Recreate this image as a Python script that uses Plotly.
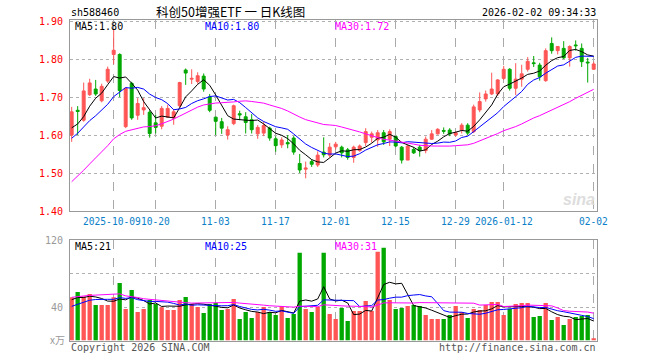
import plotly.graph_objects as go
import pandas as pd

# ---------------- data ----------------
dates = [
    "2025-09-22", "2025-09-23", "2025-09-24", "2025-09-25", "2025-09-26", "2025-09-29", "2025-09-30",
    "2025-10-09", "2025-10-10", "2025-10-13", "2025-10-14", "2025-10-15", "2025-10-16", "2025-10-17",
    "2025-10-20", "2025-10-21", "2025-10-22", "2025-10-23", "2025-10-24", "2025-10-27", "2025-10-28",
    "2025-10-29", "2025-10-30", "2025-10-31",
    "2025-11-03", "2025-11-04", "2025-11-05", "2025-11-06", "2025-11-07", "2025-11-10", "2025-11-11",
    "2025-11-12", "2025-11-13", "2025-11-14", "2025-11-17", "2025-11-18", "2025-11-19", "2025-11-20",
    "2025-11-21", "2025-11-24", "2025-11-25", "2025-11-26", "2025-11-27", "2025-11-28",
    "2025-12-01", "2025-12-02", "2025-12-03", "2025-12-04", "2025-12-05", "2025-12-08", "2025-12-09",
    "2025-12-10", "2025-12-11", "2025-12-12", "2025-12-15", "2025-12-16", "2025-12-17", "2025-12-18",
    "2025-12-19", "2025-12-22", "2025-12-23", "2025-12-24", "2025-12-25", "2025-12-26", "2025-12-29",
    "2025-12-30", "2025-12-31",
    "2026-01-05", "2026-01-06", "2026-01-07", "2026-01-08", "2026-01-09", "2026-01-12", "2026-01-13",
    "2026-01-14", "2026-01-15", "2026-01-16", "2026-01-19", "2026-01-20", "2026-01-21", "2026-01-22",
    "2026-01-23", "2026-01-26", "2026-01-27", "2026-01-28", "2026-01-29", "2026-01-30",
    "2026-02-02",
]

open_ = [1.600, 1.665, 1.639, 1.706, 1.721, 1.690, 1.742, 1.812, 1.812, 1.622,
         1.736, 1.652, 1.666, 1.660, 1.632, 1.623, 1.647, 1.645, 1.677, 1.771,
         1.747, 1.741, 1.755, 1.700, 1.647, 1.635, 1.600, 1.630, 1.656, 1.648,
         1.640, 1.603, 1.605, 1.618, 1.590, 1.574, 1.580, 1.592, 1.525, 1.510,
         1.530, 1.521, 1.555, 1.547, 1.569, 1.568, 1.561, 1.541, 1.559, 1.580,
         1.594, 1.587, 1.606, 1.589, 1.596, 1.568, 1.534, 1.562, 1.568, 1.559,
         1.589, 1.603, 1.612, 1.613, 1.600, 1.613, 1.626, 1.609, 1.666, 1.695,
         1.708, 1.708, 1.749, 1.773, 1.723, 1.747, 1.773, 1.790, 1.784, 1.743,
         1.841, 1.822, 1.828, 1.803, 1.837, 1.828, 1.792, 1.773]
high = [1.674, 1.676, 1.738, 1.748, 1.745, 1.735, 1.780, 1.878, 1.815, 1.725,
        1.740, 1.697, 1.697, 1.665, 1.653, 1.676, 1.680, 1.668, 1.740, 1.775,
        1.773, 1.765, 1.762, 1.708, 1.648, 1.645, 1.623, 1.680, 1.664, 1.660,
        1.655, 1.626, 1.635, 1.622, 1.596, 1.594, 1.600, 1.597, 1.550, 1.530,
        1.536, 1.557, 1.594, 1.579, 1.582, 1.572, 1.566, 1.572, 1.575, 1.618,
        1.609, 1.613, 1.613, 1.615, 1.598, 1.571, 1.574, 1.568, 1.574, 1.596,
        1.613, 1.618, 1.620, 1.618, 1.610, 1.631, 1.631, 1.680, 1.712, 1.717,
        1.764, 1.747, 1.782, 1.776, 1.789, 1.785, 1.805, 1.808, 1.790, 1.828,
        1.857, 1.833, 1.847, 1.836, 1.849, 1.841, 1.803, 1.793]
low = [1.582, 1.600, 1.635, 1.703, 1.703, 1.686, 1.737, 1.786, 1.700, 1.618,
       1.640, 1.640, 1.653, 1.593, 1.604, 1.615, 1.645, 1.627, 1.672, 1.732,
       1.734, 1.735, 1.714, 1.660, 1.600, 1.603, 1.588, 1.626, 1.639, 1.604,
       1.604, 1.590, 1.597, 1.585, 1.556, 1.566, 1.565, 1.548, 1.500, 1.486,
       1.516, 1.516, 1.541, 1.541, 1.562, 1.541, 1.535, 1.527, 1.556, 1.571,
       1.580, 1.569, 1.574, 1.571, 1.568, 1.525, 1.534, 1.550, 1.543, 1.552,
       1.587, 1.601, 1.603, 1.597, 1.596, 1.604, 1.600, 1.605, 1.660, 1.688,
       1.705, 1.703, 1.745, 1.717, 1.705, 1.727, 1.767, 1.779, 1.743, 1.740,
       1.814, 1.812, 1.800, 1.780, 1.822, 1.779, 1.738, 1.771]
close = [1.661, 1.662, 1.716, 1.737, 1.708, 1.728, 1.773, 1.823, 1.717, 1.723,
         1.645, 1.683, 1.672, 1.604, 1.620, 1.670, 1.670, 1.661, 1.738, 1.763,
         1.749, 1.756, 1.721, 1.665, 1.636, 1.618, 1.614, 1.677, 1.653, 1.633,
         1.614, 1.620, 1.625, 1.592, 1.572, 1.587, 1.577, 1.555, 1.508, 1.513,
         1.523, 1.547, 1.548, 1.568, 1.576, 1.553, 1.541, 1.568, 1.571, 1.609,
         1.603, 1.606, 1.582, 1.609, 1.571, 1.534, 1.571, 1.553, 1.559, 1.589,
         1.603, 1.615, 1.610, 1.603, 1.606, 1.626, 1.605, 1.674, 1.688, 1.708,
         1.721, 1.745, 1.773, 1.723, 1.747, 1.761, 1.794, 1.788, 1.753, 1.822,
         1.822, 1.833, 1.803, 1.833, 1.835, 1.793, 1.790, 1.787]
volume = [51.6, 58.0, 52.4, 55.6, 42.4, 42.4, 42.4, 51.6, 68.8, 37.6,
          60.4, 34.0, 37.6, 48.4, 43.6, 39.6, 36.4, 36.4, 48.4, 52.0,
          43.6, 40.0, 32.8, 43.6, 44.8, 36.4, 37.6, 49.6, 25.6, 34.0,
          26.8, 34.0, 40.0, 34.0, 30.4, 41.2, 26.8, 31.6, 104.8, 37.6,
          34.0, 40.0, 104.8, 31.6, 25.6, 38.8, 23.2, 35.2, 35.2, 47.2,
          35.2, 106.0, 110.8, 48.4, 37.6, 38.8, 41.2, 42.4, 41.2, 30.4,
          25.6, 25.6, 25.6, 30.4, 41.2, 34.0, 26.8, 37.6, 36.4, 42.4,
          46.0, 46.0, 30.4, 37.6, 43.6, 44.8, 44.8, 28.0, 29.2, 44.8,
          24.4, 28.0, 18.4, 25.6, 28.0, 29.2, 30.4, 2.8]

# sessions before the visible window (needed for the moving averages at the left edge)
hist_close = [1.23, 1.24, 1.24, 1.25, 1.26, 1.26, 1.277,
              1.38, 1.47, 1.52, 1.55, 1.58, 1.58,
              1.55, 1.52, 1.49, 1.47, 1.50, 1.52, 1.51, 1.53, 1.55, 1.57,
              1.58, 1.59, 1.61, 1.62, 1.60, 1.603]
hist_volume = [30, 32, 35, 33, 38, 36, 40, 46.6,
               110, 85, 70, 80, 72, 65, 60, 56.6,
               70, 62, 60, 58.8,
               35, 30, 28, 34, 37.5,
               45, 52, 48, 46.9]

tick_dates = ["2025-10-09", "2025-10-20", "2025-11-03", "2025-11-17", "2025-12-01",
              "2025-12-15", "2025-12-29", "2026-01-12", "2026-02-02"]
tick_text = ["2025-10-09", "10-20", "11-03", "11-17", "12-01",
             "12-15", "12-29", "2026-01-12", "02-02"]
price_ticks = [1.40, 1.50, 1.60, 1.70, 1.80, 1.90]
vol_ticks = [40, 80, 120]
vol_tick_text = ["40", "", "120"]

legend_price = ["MA5:1.80", "MA10:1.80", "MA30:1.72"]
legend_vol = ["MA5:21", "MA10:25", "MA30:31"]

# ---------------- derived ----------------
n_hist = len(hist_close)
c_all = pd.Series(hist_close + close)
v_all = pd.Series(hist_volume + volume)
ma_p = {k: c_all.rolling(k).mean().iloc[n_hist:].tolist() for k in (5, 10, 30)}
ma_v = {k: v_all.rolling(k).mean().iloc[n_hist:].tolist() for k in (5, 10, 30)}

RED = "#ff5555"
GREEN = "#00a800"
MA_COLORS = {5: "#000000", 10: "#0000ff", 30: "#ff00ff"}
MONO = "DejaVu Sans Mono"

W, H = 660, 360
L, R = 70, 63


def px(x):
    return (x - L) / (W - L - R)


def py(y):
    return 1 - y / H


fig = go.Figure()

fig.add_trace(go.Candlestick(
    x=dates, open=open_, high=high, low=low, close=close,
    increasing=dict(line=dict(color=RED, width=1), fillcolor=RED),
    decreasing=dict(line=dict(color=GREEN, width=1), fillcolor=GREEN),
    whiskerwidth=0, xaxis="x", yaxis="y", showlegend=False, hoverinfo="skip",
))
for k in (5, 10, 30):
    fig.add_trace(go.Scatter(x=dates, y=ma_p[k], mode="lines",
                             line=dict(color=MA_COLORS[k], width=1),
                             xaxis="x", yaxis="y", showlegend=False, hoverinfo="skip"))

bar_colors = [RED if c >= o else GREEN for o, c in zip(open_, close)]
fig.add_trace(go.Bar(x=dates, y=volume, marker=dict(color=bar_colors, line=dict(width=0)),
                     width=0.72, xaxis="x2", yaxis="y2", showlegend=False, hoverinfo="skip"))
for k in (5, 10, 30):
    fig.add_trace(go.Scatter(x=dates, y=ma_v[k], mode="lines",
                             line=dict(color=MA_COLORS[k], width=1),
                             xaxis="x2", yaxis="y2", showlegend=False, hoverinfo="skip"))

xr = [-0.28, len(dates) - 1 + 0.55]
common_x = dict(type="category", range=xr, showline=True, mirror=True, linecolor="#999999",
                linewidth=1, showgrid=True, gridcolor="#aaaaaa", griddash="dash", gridwidth=1,
                tickvals=tick_dates, ticks="", zeroline=False, fixedrange=True,
                automargin=False, tickangle=0, showticklabels=False)

fig.update_layout(
    width=W, height=H, margin=dict(l=L, r=R, t=0, b=0, autoexpand=False),
    paper_bgcolor="white", plot_bgcolor="white",
    xaxis=dict(**common_x, anchor="y", rangeslider=dict(visible=False)),
    xaxis2=dict(**common_x, anchor="y2", matches="x"),
    yaxis=dict(domain=[py(211), py(19.5)], range=[1.40, 1.904], tickvals=price_ticks,
               ticktext=[f"{v:.2f}" for v in price_ticks],
               tickfont=dict(family=MONO, size=10, color="#ff0000"),
               showline=True, mirror=True, linecolor="#999999", linewidth=1,
               showgrid=True, gridcolor="#b0b0b0", griddash="dot", gridwidth=1,
               ticks="", zeroline=False, ticklabelstandoff=4, fixedrange=True,
               automargin=False),
    yaxis2=dict(domain=[py(340.5), py(240)], range=[0, 120], tickvals=vol_ticks,
                ticktext=vol_tick_text,
                tickfont=dict(family=MONO, size=10, color="#999999"),
                showline=True, mirror=True, linecolor="#999999", linewidth=1,
                showgrid=True, gridcolor="#b0b0b0", griddash="dot", gridwidth=1,
                ticks="", zeroline=False, ticklabelstandoff=4, fixedrange=True,
                automargin=False),
    bargap=0.3,
)

ann = []


def text(x, y, s, color="#000000", size=10, family=MONO, xanchor="left"):
    ann.append(dict(x=px(x), y=py(y), xref="paper", yref="paper", text=s, showarrow=False,
                    xanchor=xanchor, yanchor="middle", borderpad=0,
                    font=dict(family=family, size=size, color=color)))


# date labels under the price panel, placed on the category axis
for d, s in zip(tick_dates, tick_text):
    ann.append(dict(x=d, xref="x", y=py(221.5), yref="paper", text=s, showarrow=False,
                    xanchor="center", yanchor="middle", xshift=-2 if s == tick_text[0] else 0,
                    borderpad=0, font=dict(family=MONO, size=9.6, color="#0a7fc8")))

text(70, 13, "sh588460")
text(230, 12, "科创50增强ETF 一 日K线图", size=12.5, family="Noto Sans CJK SC", xanchor="center")
text(597, 13, "2026-02-02 09:34:33", xanchor="right")

for s, x, k in zip(legend_price, (74, 204, 334), (5, 10, 30)):
    text(x, 26.5, s, color=MA_COLORS[k])
for s, x, k in zip(legend_vol, (74, 204, 334), (5, 10, 30)):
    text(x, 246, s, color=MA_COLORS[k])

text(66, 339, "x万", color="#999999", xanchor="right", family="Noto Sans CJK SC")
text(70, 347, "Copyright 2026 SINA.COM", color="#555555")
text(597, 347, "http://finance.sina.com.cn", color="#555555", xanchor="right")
text(596, 199, "<b><i>sina</i></b>", color="#dddddd", size=16, family="Liberation Sans", xanchor="right")

fig.update_layout(annotations=ann)
# remove the browser's default 8px page margin so the figure fills the 660x360 window
fig.write_html("out.html", config={"displayModeBar": False},
               post_script="document.body.style.margin='0px';")
